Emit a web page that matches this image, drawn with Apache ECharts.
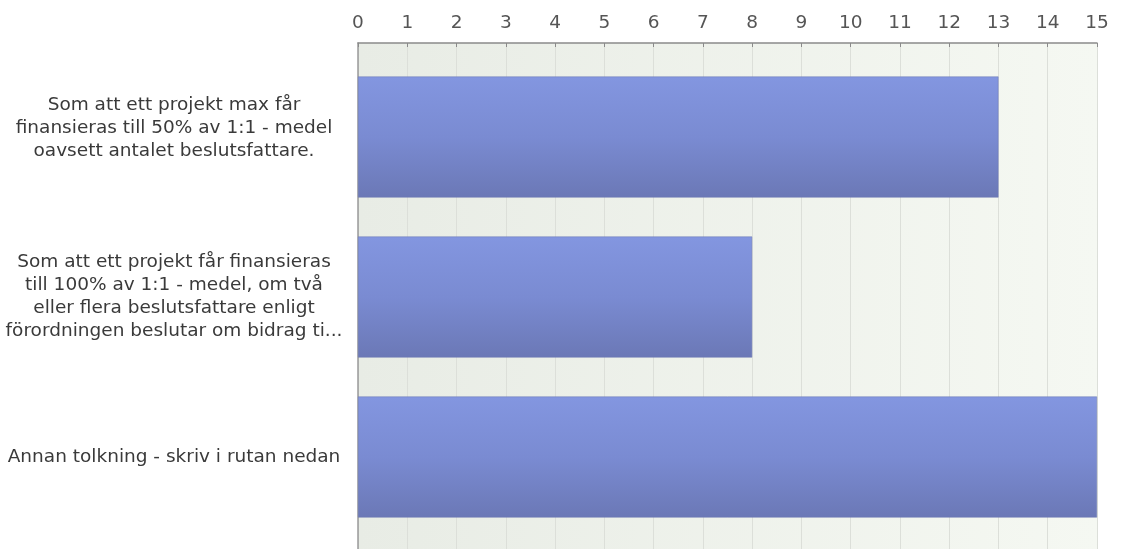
<!DOCTYPE html>
<html>
<head>
<meta charset="utf-8">
<script src="https://cdn.jsdelivr.net/npm/echarts@6/dist/echarts.min.js"></script>
<style>
html,body{margin:0;padding:0;background:#fff;}
#c{width:1123px;height:549px;}
</style>
</head>
<body>
<div id="c"></div>
<script>
const categories = [
  "Som att ett projekt max får\nfinansieras till 50% av 1:1 - medel\noavsett antalet beslutsfattare.",
  "Som att ett projekt får finansieras\ntill 100% av 1:1 - medel, om två\neller flera beslutsfattare enligt\nförordningen beslutar om bidrag ti...",
  "Annan tolkning - skriv i rutan nedan"
];
const values = [13, 8, 15];
const xTicks = [0,1,2,3,4,5,6,7,8,9,10,11,12,13,14,15];

const FONT = "DejaVu Sans";
const labelPad = [[0,0,18,0],[0,0,0,0],[0,0,0,0]];
const chart = echarts.init(document.getElementById('c'), null, {renderer:'canvas'});
chart.setOption({
  animation:false,
  backgroundColor:'#ffffff',
  grid:[
    {left:358, right:26, top:43, bottom:-6, show:true, borderWidth:0,
     backgroundColor:{type:'linear',x:0,y:0,x2:1,y2:0,colorStops:[{offset:0,color:'#e8ece5'},{offset:1,color:'#f5f8f2'}]}},
    {left:358, right:26, top:57, height:480}
  ],
  xAxis:[
    {gridIndex:0, type:'value', position:'top', min:xTicks[0], max:xTicks[xTicks.length-1], interval:1,
     axisLine:{show:true, onZero:false, lineStyle:{color:'#8a8a8a', width:1.5}},
     axisTick:{show:true, inside:true, length:4, lineStyle:{color:'#8a8a8a'}},
     axisLabel:{show:true, margin:10, color:'#555', fontFamily:FONT, fontSize:18.5},
     splitLine:{show:true, lineStyle:{color:'#dcdfd9', width:1}}},
    {gridIndex:1, type:'value', min:xTicks[0], max:xTicks[xTicks.length-1], interval:1, show:false}
  ],
  yAxis:[
    {gridIndex:0, type:'value', min:0, max:1, axisLine:{show:true, onZero:false, lineStyle:{color:'#9a9a9a', width:1.5}},
     axisTick:{show:false}, axisLabel:{show:false}, splitLine:{show:false}},
    {gridIndex:1, type:'category', inverse:true,
     data:categories.map(function(c,i){return {value:c, textStyle:{padding:labelPad[i]}};}),
     axisLine:{show:false}, axisTick:{show:false},
     axisLabel:{show:true, margin:14, align:'right',
       formatter:function(v){return v.split('\n').map(function(s){return '{t|'+s+'}';}).join('\n');},
       rich:{t:{width:340, align:'center', fontFamily:FONT, fontSize:18.5, lineHeight:23, color:'#3a3a3a'}}}}
  ],
  series:[{
    type:'bar', xAxisIndex:1, yAxisIndex:1, data:values, barWidth:121,
    itemStyle:{color:{type:'linear',x:0,y:0,x2:0,y2:1,colorStops:[
      {offset:0,color:'#8396e0'},{offset:0.5,color:'#7a8bd2'},{offset:1,color:'#6b78b6'}]},
      borderColor:'#6a76b0', borderWidth:0.5}
  }]
});
</script>
</body>
</html>
